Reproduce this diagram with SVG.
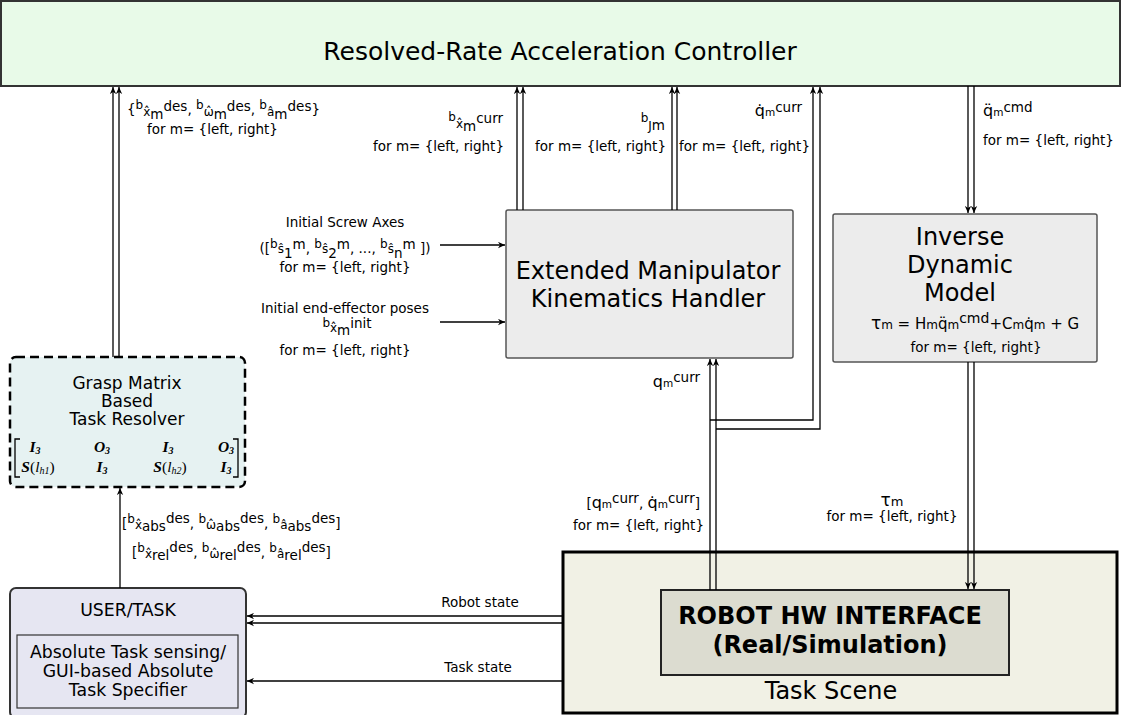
<svg xmlns="http://www.w3.org/2000/svg" width="1122" height="715" viewBox="0 0 1122 715">
<defs>
<style>
text { font-family: "DejaVu Sans", "Liberation Sans", sans-serif; fill: #000; }
.t { font-size: 13.5px; }
.sm { font-size: 12px; }
.xs { font-size: 10.5px; }
.big { font-size: 24px; }
.mid { font-size: 17px; }
.ut { font-size: 17.3px; }
.c { text-anchor: middle; }
.e { text-anchor: end; }
.mx { font-family: "Liberation Serif", "DejaVu Serif", serif; font-weight: bold; font-style: italic; font-size: 15.5px; text-anchor: middle; }
.mxs { font-size: 10px; }
.ln { stroke: #000; stroke-width: 1.3; fill: none; }
.arr { marker-end: url(#ah); }
</style>
<marker id="ah" viewBox="0 0 10 10" refX="10" refY="5" markerWidth="8" markerHeight="7" markerUnits="userSpaceOnUse" orient="auto">
<path d="M0,0.5 L10,5 L0,9.5 L3,5 z" fill="#000"/>
</marker>
</defs>
<rect width="1122" height="715" fill="#fff"/>

<g id="controller">
<rect x="1" y="1" width="1119" height="85" fill="#e8fae8" stroke="#333" stroke-width="2"/>
<text class="c" x="560" y="60" font-size="25">Resolved-Rate Acceleration Controller</text>
</g>

<g id="emkh">
<rect x="506" y="210" width="287" height="148" rx="2" fill="#ececec" stroke="#555" stroke-width="1.5"/>
<text class="c big" x="648" y="279">Extended Manipulator</text>
<text class="c big" x="648" y="307">Kinematics Handler</text>
</g>

<g id="idm">
<rect x="833" y="214" width="264" height="148" rx="2" fill="#ececec" stroke="#555" stroke-width="1.5"/>
<text class="c big" x="960" y="245">Inverse</text>
<text class="c big" x="960" y="273">Dynamic</text>
<text class="c big" x="960" y="301">Model</text>
<text class="c" x="975" y="329" font-size="15"><tspan font-size="17">τ</tspan><tspan font-size="12">m</tspan> = H<tspan font-size="12">m</tspan>q̈<tspan font-size="12">m</tspan><tspan dy="-6" font-size="14">cmd</tspan><tspan dy="6">+C</tspan><tspan font-size="12">m</tspan>q̇<tspan font-size="12">m</tspan> + G</text>
<text class="c t" x="976" y="352">for m= {left, right}</text>
</g>

<g id="grasp">
<rect x="10" y="357" width="235" height="130" rx="6" fill="#e6f2f2" stroke="#000" stroke-width="2.5" stroke-dasharray="9,5"/>
<text class="c mid" x="127" y="389">Grasp Matrix</text>
<text class="c mid" x="127" y="407">Based</text>
<text class="c mid" x="127" y="425">Task Resolver</text>
<path class="ln" d="M20,439 L15,439 L15,477 L20,477 M233,439 L238,439 L238,477 L233,477" stroke-width="1"/>
<text class="mx" x="35" y="452">I<tspan class="mxs" dy="2">3</tspan></text>
<text class="mx" x="102" y="452">O<tspan class="mxs" dy="2">3</tspan></text>
<text class="mx" x="168" y="452">I<tspan class="mxs" dy="2">3</tspan></text>
<text class="mx" x="226" y="452">O<tspan class="mxs" dy="2">3</tspan></text>
<text class="mx" x="38" y="472">S<tspan font-weight="normal" font-style="normal">(</tspan><tspan font-weight="normal">l</tspan><tspan class="mxs" font-weight="normal" dy="2">h1</tspan><tspan font-weight="normal" font-style="normal" dy="-2">)</tspan></text>
<text class="mx" x="102" y="472">I<tspan class="mxs" dy="2">3</tspan></text>
<text class="mx" x="170" y="472">S<tspan font-weight="normal" font-style="normal">(</tspan><tspan font-weight="normal">l</tspan><tspan class="mxs" font-weight="normal" dy="2">h2</tspan><tspan font-weight="normal" font-style="normal" dy="-2">)</tspan></text>
<text class="mx" x="226" y="472">I<tspan class="mxs" dy="2">3</tspan></text>
</g>

<g id="user">
<rect x="10" y="588" width="236" height="130" rx="6" fill="#e6e6f2" stroke="#333" stroke-width="2"/>
<text class="c ut" x="128" y="616">USER/TASK</text>
<rect x="17" y="635" width="221" height="73" fill="#e6e6f2" stroke="#333" stroke-width="1.2"/>
<text class="c ut" x="128" y="658">Absolute Task sensing/</text>
<text class="c ut" x="128" y="677">GUI-based Absolute</text>
<text class="c ut" x="128" y="696">Task Specifier</text>
</g>

<g id="scene">
<rect x="563" y="552" width="554" height="161" fill="#f1f1e5" stroke="#000" stroke-width="3"/>
<text class="c" x="831" y="699" font-size="24">Task Scene</text>
</g>

<g id="robot">
<rect x="661" y="590" width="348" height="85" fill="#dcdcd0" stroke="#222" stroke-width="2"/>
<text class="c" x="830" y="624" font-size="24" font-weight="bold">ROBOT HW INTERFACE</text>
<text class="c" x="830" y="653" font-size="24" font-weight="bold">(Real/Simulation)</text>
</g>

<g id="connectors">
<path class="ln arr" d="M113,357 L113,87"/>
<path class="ln arr" d="M119,357 L119,87"/>
<path class="ln arr" d="M120,588 L120,488"/>
<path class="ln arr" d="M517,210 L517,87"/>
<path class="ln arr" d="M523,210 L523,87"/>
<path class="ln arr" d="M672,210 L672,87"/>
<path class="ln arr" d="M677,210 L677,87"/>
<path class="ln arr" d="M710,420 L813,420 L813,87"/>
<path class="ln arr" d="M716,429 L820,429 L820,87"/>
<path class="ln arr" d="M710,590 L710,359"/>
<path class="ln arr" d="M716,590 L716,359"/>
<path class="ln arr" d="M968,86 L968,213"/>
<path class="ln arr" d="M974,86 L974,213"/>
<path class="ln arr" d="M968,362 L968,589"/>
<path class="ln arr" d="M974,362 L974,589"/>
<path class="ln arr" d="M440,245 L505,245"/>
<path class="ln arr" d="M440,322 L505,322"/>
<path class="ln arr" d="M563,616 L247,616"/>
<path class="ln arr" d="M563,623 L247,623"/>
<path class="ln arr" d="M563,681 L247,681"/>
</g>

<g id="labels">
<text class="t" x="127" y="114" font-size="14.5">{<tspan class="sm" dy="-5">b</tspan><tspan class="sm" dy="7">x̂</tspan><tspan dy="3">m</tspan><tspan dy="-8">des</tspan><tspan dy="3">, </tspan><tspan class="sm" dy="-5">b</tspan><tspan class="sm" dy="7">ω̂</tspan><tspan dy="3">m</tspan><tspan dy="-8">des</tspan><tspan dy="3">, </tspan><tspan class="sm" dy="-5">b</tspan><tspan class="sm" dy="7">â</tspan><tspan dy="3">m</tspan><tspan dy="-8">des</tspan><tspan dy="3">}</tspan></text>
<text class="t" x="147" y="134">for m= {left, right}</text>

<text class="t e" x="503" y="126" font-size="14"><tspan class="sm" dy="-5">b</tspan><tspan class="sm" dy="7">x̂</tspan><tspan dy="3">m</tspan><tspan dy="-8">curr</tspan></text>
<text class="t e" x="504" y="151">for m= {left, right}</text>

<text class="t e" x="665" y="130" font-size="14"><tspan class="sm" dy="-8">b</tspan><tspan class="sm" dy="8">J</tspan>m</text>
<text class="t e" x="666" y="151">for m= {left, right}</text>

<text class="t e" x="802" y="116" font-size="14"><tspan font-size="16">q̇</tspan><tspan class="xs">m</tspan><tspan dy="-4">curr</tspan></text>
<text class="t e" x="810" y="151">for m= {left, right}</text>

<text class="t" x="983" y="116" font-size="14"><tspan font-size="16">q̈</tspan><tspan class="xs">m</tspan><tspan dy="-4">cmd</tspan></text>
<text class="t" x="983" y="145">for m= {left, right}</text>

<text class="t c" x="345" y="227">Initial Screw Axes</text>
<text class="t c" x="345" y="253" font-size="14">([<tspan class="sm" dy="-5">b</tspan><tspan class="sm" dy="5">ŝ</tspan><tspan dy="5">1</tspan><tspan dy="-9">m</tspan><tspan dy="4">, </tspan><tspan class="sm" dy="-5">b</tspan><tspan class="sm" dy="5">ŝ</tspan><tspan dy="5">2</tspan><tspan dy="-9">m</tspan><tspan dy="4">, ..., </tspan><tspan class="sm" dy="-5">b</tspan><tspan class="sm" dy="5">ŝ</tspan><tspan dy="5">n</tspan><tspan dy="-9">m</tspan><tspan dy="4"> ])</tspan></text>
<text class="t c" x="345" y="272">for m= {left, right}</text>

<text class="t c" x="345" y="313">Initial end-effector poses</text>
<text class="t c" x="347" y="332" font-size="14"><tspan class="sm" dy="-5">b</tspan><tspan class="sm" dy="5">x̂</tspan><tspan dy="3">m</tspan><tspan dy="-7">init</tspan></text>
<text class="t c" x="345" y="355">for m= {left, right}</text>

<text class="t e" x="700" y="387" font-size="14"><tspan font-size="16">q</tspan><tspan class="xs">m</tspan><tspan dy="-5">curr</tspan></text>

<text class="t e" x="700" y="508" font-size="14">[<tspan font-size="16">q</tspan><tspan class="xs">m</tspan><tspan dy="-5">curr</tspan><tspan dy="5">, </tspan><tspan font-size="16">q̇</tspan><tspan class="xs">m</tspan><tspan dy="-5">curr</tspan><tspan dy="5">]</tspan></text>
<text class="t e" x="704" y="530">for m= {left, right}</text>

<text class="t c" x="892" y="506"><tspan font-size="17">τ</tspan><tspan font-size="13">m</tspan></text>
<text class="t c" x="892" y="521">for m= {left, right}</text>

<text class="t" x="122" y="528" font-size="14.5">[<tspan class="sm" dy="-5">b</tspan><tspan class="sm" dy="6">x̂</tspan><tspan dy="2">abs</tspan><tspan dy="-8">des</tspan><tspan dy="5">, </tspan><tspan class="sm" dy="-5">b</tspan><tspan class="sm" dy="6">ω̂</tspan><tspan dy="2">abs</tspan><tspan dy="-8">des</tspan><tspan dy="5">, </tspan><tspan class="sm" dy="-5">b</tspan><tspan class="sm" dy="6">â</tspan><tspan dy="2">abs</tspan><tspan dy="-8">des</tspan><tspan dy="5">]</tspan></text>
<text class="t" x="132" y="557" font-size="14.5">[<tspan class="sm" dy="-5">b</tspan><tspan class="sm" dy="6">x̂</tspan><tspan dy="2">rel</tspan><tspan dy="-8">des</tspan><tspan dy="5">, </tspan><tspan class="sm" dy="-5">b</tspan><tspan class="sm" dy="6">ω̂</tspan><tspan dy="2">rel</tspan><tspan dy="-8">des</tspan><tspan dy="5">, </tspan><tspan class="sm" dy="-5">b</tspan><tspan class="sm" dy="6">â</tspan><tspan dy="2">rel</tspan><tspan dy="-8">des</tspan><tspan dy="5">]</tspan></text>

<text class="t c" x="480" y="607">Robot state</text>
<text class="t c" x="478" y="672">Task state</text>
</g>
</svg>
